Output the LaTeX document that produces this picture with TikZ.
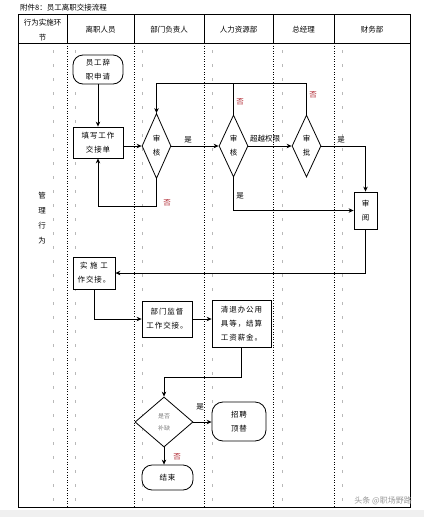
\documentclass[tikz,border=0pt]{standalone}
\usepackage{fontspec}
\setmainfont{Noto Sans CJK SC}
\newfontfamily\spaced[LetterSpace=12]{Noto Sans CJK SC}
\usetikzlibrary{shapes.geometric,arrows.meta}
\definecolor{nored}{RGB}{175,35,45}
\begin{document}
\begin{tikzpicture}[x=1pt,y=-1pt,
  line/.style={line width=0.8pt},
  arr/.style={line width=0.8pt,-{Stealth[length=5pt,width=4.5pt]}},
  box/.style={draw,line width=0.8pt,fill=white,align=center,inner sep=0pt,font=\spaced\fontsize{7.5}{14}\selectfont},
  term/.style={box,rounded corners=9pt},
  dec/.style={draw,diamond,line width=0.8pt,fill=white,align=center,inner sep=0pt,font=\fontsize{7.5}{14}\selectfont},
  lab/.style={font=\fontsize{7.5}{9}\selectfont,inner sep=0pt},
  nolab/.style={lab,text=nored},
  head/.style={font=\fontsize{7.5}{15}\selectfont,align=center,inner sep=0pt},
  sep/.style={line width=0.6pt,dotted},
  pmark/.style={gray!55,line width=0.5pt,dash pattern=on 3pt off 11pt}
]
\useasboundingbox (0,0) rectangle (424,517);
\fill[white] (0,0) rectangle (424,517);
\fill[gray!12] (0,510) rectangle (424,517);
% title
\node[lab,anchor=west] (title) at (20,8) {附件8：员工离职交接流程};
% frame
\draw[line] (18,14) rectangle (410,507);
\draw[line] (18,43) -- (410,43);
\foreach \x in {67,134,204,273,334} {
  \draw[line width=0.6pt] (\x,14) -- (\x,43);
  \draw[sep] (\x,43) -- (\x,507);
}
% paragraph marks
\foreach \x in {53,75,142,212,282,342} {
  \draw[pmark] (\x,50) -- (\x,505);
}
% headers
\node[head] (h1) at (42.5,30) {行为实施环\\节};
\node[head] (h2) at (100.5,30) {离职人员};
\node[head] (h3) at (169,30) {部门负责人};
\node[head] (h4) at (238.5,30) {人力资源部};
\node[head] (h5) at (303.5,30) {总经理};
\node[head] (h6) at (372,30) {财务部};
\node[head] (side) at (42,218) {管\\理\\行\\为};
% nodes
\node[term,minimum width=50pt,minimum height=29pt,rounded corners=10pt] (start) at (98,69.5) {员工辞\\职申请};
\node[box,minimum width=50pt,minimum height=31pt] (b1) at (98,142.5) {填写工作\\交接单};
\node[dec,minimum width=29pt,minimum height=65pt] (d1) at (156.5,146) {审\\核};
\node[dec,minimum width=29pt,minimum height=62pt] (d2) at (233.5,146) {审\\核};
\node[dec,minimum width=29pt,minimum height=62pt] (d3) at (306.5,146) {审\\批};
\node[box,minimum width=23pt,minimum height=37pt] (rv) at (365.5,210.5) {审\\阅};
\node[box,minimum width=42pt,minimum height=32pt] (ex) at (94,273) {实 施 工\\作交接。};
\node[box,minimum width=50pt,minimum height=36pt] (sup) at (167,319) {部门监督\\工作交接。};
\node[box,minimum width=59pt,minimum height=47pt] (cl) at (241.5,323.5) {清退办公用\\具等，结算\\工资薪金。};
\node[dec,minimum width=58pt,minimum height=50pt,text=gray,font=\fontsize{6}{12}\selectfont] (d4) at (164,422) {是否\\补缺};
\node[term,minimum width=54pt,minimum height=39pt,rounded corners=11pt] (hire) at (239,421.5) {招聘\\顶替};
\node[term,minimum width=51pt,minimum height=25pt,rounded corners=10pt] (end) at (167.5,477.5) {结束};
% helper coordinates
\coordinate (ytop) at (0,83);
\coordinate (ybot) at (0,206);
\coordinate (ymid) at (0,377);
% connectors
\draw[arr] (start.south) -- (b1.north);
\draw[arr] (b1.east |- d1.west) -- (d1.west);
\draw[arr] (d1.east) -- (d2.west);
\draw[arr] (d2.east) -- (d3.west);
\draw[arr] (d2.north) -- (d2.north |- ytop) -- (d1.north |- ytop) -- (d1.north);
\draw[line] (d3.north) -- (d3.north |- ytop) -- (d2.north |- ytop);
\draw[arr] (d3.east) -- (rv.north |- d3.east) -- (rv.north);
\draw[arr] (d2.south) |- (rv.west);
\draw[arr] (d1.south) -- (d1.south |- ybot) -- (b1.south |- ybot) -- (b1.south);
\draw[arr] (rv.south) |- (ex.east);
\draw[arr] (ex.south) |- (sup.west);
\draw[arr] (sup.east) -- (sup.east -| cl.west);
\draw[arr] (cl.south) -- (cl.south |- ymid) -- (d4.north |- ymid) -- (d4.north);
\draw[arr] (d4.east) -- (d4.east -| hire.west);
\draw[arr] (d4.south) -- (d4.south |- end.north);
% labels
\node[lab] (l1) at (188,140) {是};
\node[lab] (l2) at (265,139) {超越权限};
\node[nolab] (l3) at (240,102) {否};
\node[nolab] (l4) at (313,95) {否};
\node[lab] (l5) at (341,140) {是};
\node[lab] (l6) at (240,196) {是};
\node[nolab] (l7) at (167,203) {否};
\node[lab] (l8) at (200,407) {是};
\node[nolab] (l9) at (177,457) {否};
% watermark
\node[lab,text=gray!80,font=\fontsize{8}{9}\selectfont,anchor=east] (wm) at (412,501) {头条 @职场野路};
\end{tikzpicture}
\end{document}
